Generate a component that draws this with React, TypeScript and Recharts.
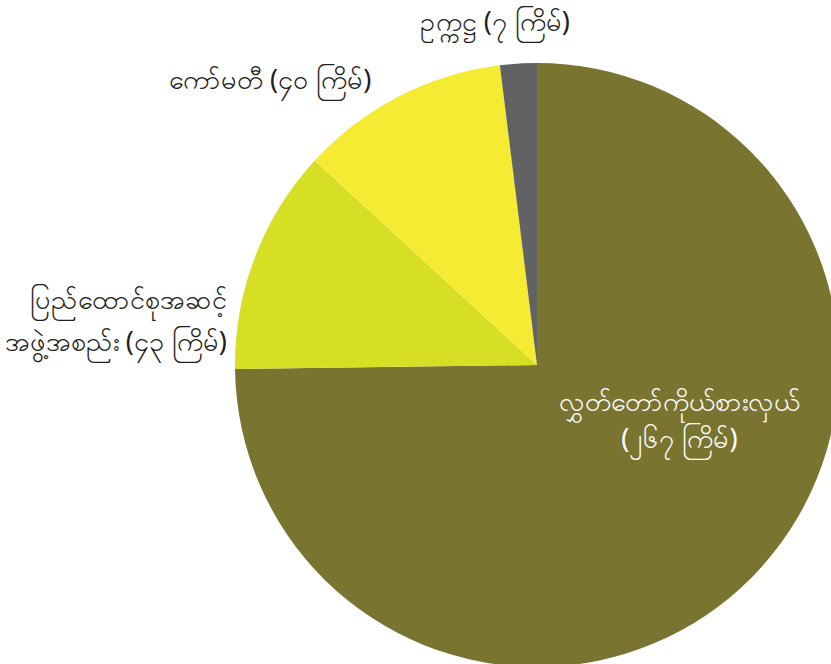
import React from 'react';
import { PieChart, Pie, Cell } from 'recharts';

const categories = [
  'လွှတ်တော်ကိုယ်စားလှယ်',
  'ပြည်ထောင်စုအဆင့် အဖွဲ့အစည်း',
  'ကော်မတီ',
  'ဥက္ကဋ္ဌ',
];
const values = [267, 43, 40, 7];
const valueLabels = ['၂၆၇', '၄၃', '၄၀', '၇'];
const colors = ['#7A7431', '#D6DF24', '#F6EB33', '#616264'];

// label lines per slice
const labelLines: string[][] = [
  ['လွှတ်တော်ကိုယ်စားလှယ်', `(${valueLabels[0]} ကြိမ်)`],
  ['ပြည်ထောင်စုအဆင့်', `အဖွဲ့အစည်း (${valueLabels[1]} ကြိမ်)`],
  [`${categories[2]} (${valueLabels[2]} ကြိမ်)`],
  [`${categories[3]} (${valueLabels[3]} ကြိမ်)`],
];

// label layout: radius factor, anchor, offsets, line spacing
const labelLayout = [
  { k: 0.5, anchor: 'middle', dx: 35, dy: -60, gap: 37, color: '#ffffff' },
  { k: 1.06, anchor: 'end', dx: -11, dy: 58, gap: 42, color: '#231f20' },
  { k: 1.04, anchor: 'end', dx: -22, dy: 3, gap: 0, color: '#231f20' },
  { k: 1.09, anchor: 'middle', dx: -22, dy: -5, gap: 0, color: '#231f20' },
];

const data = categories.map((name, i) => ({ name, value: values[i] }));

const RADIAN = Math.PI / 180;

const renderLabel = (props: any) => {
  const { cx, cy, midAngle, outerRadius, index } = props;
  const L = labelLayout[index];
  const r = outerRadius * L.k;
  const x = cx + r * Math.cos(-midAngle * RADIAN) + L.dx;
  const y = cy + r * Math.sin(-midAngle * RADIAN) + L.dy;
  const lines = labelLines[index];
  return (
    <text
      x={x}
      y={y}
      textAnchor={L.anchor}
      fill={L.color}
      fontSize={27}
      fontFamily="'Noto Sans', sans-serif"
    >
      {lines.map((ln, j) => (
        <tspan key={j} x={x} dy={j === 0 ? 0 : L.gap}>
          {ln}
        </tspan>
      ))}
    </text>
  );
};

export default function App() {
  return (
    <div style={{ position: 'absolute', left: 0, top: 0, width: 831, height: 664, background: '#ffffff' }}>
      <PieChart width={831} height={664} margin={{ top: 0, right: 0, bottom: 0, left: 0 }}>
        <Pie
          data={data}
          dataKey="value"
          nameKey="name"
          cx={537}
          cy={365}
          outerRadius={302}
          startAngle={90}
          endAngle={-270}
          stroke="none"
          isAnimationActive={false}
          labelLine={false}
          label={renderLabel}
        >
          {data.map((d, i) => (
            <Cell key={d.name} fill={colors[i]} />
          ))}
        </Pie>
      </PieChart>
    </div>
  );
}
